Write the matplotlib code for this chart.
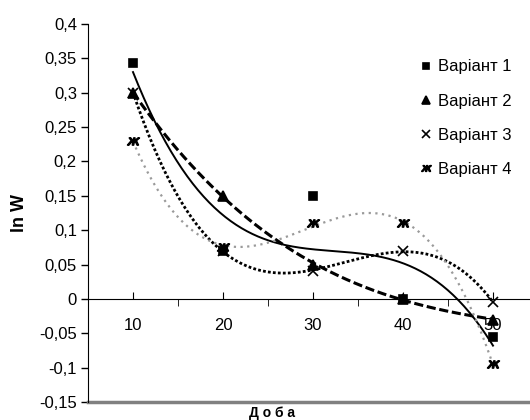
import numpy as np
import matplotlib
matplotlib.use('Agg')
from matplotlib import pyplot as plt
from matplotlib.ticker import FixedLocator, FuncFormatter

plt.rcParams['font.family'] = ['Liberation Sans', 'DejaVu Sans']

# data
days = [10, 20, 30, 40, 50]
var1 = [0.343, 0.07, 0.15, 0.0, -0.055]
var2 = [0.30, 0.15, 0.05, 0.0, -0.03]
var3 = [0.30, 0.07, 0.04, 0.07, -0.005]
var4 = [0.23, 0.075, 0.11, 0.11, -0.095]
labels = ['Варіант 1', 'Варіант 2', 'Варіант 3', 'Варіант 4']

# category positions like Excel (1..5)
pos = np.arange(1, len(days) + 1)

fig = plt.figure(figsize=(5.3, 4.2), dpi=100)
ax = fig.add_axes([88 / 530, 18 / 420, 1 - 88 / 530, 378 / 420])

series = [var1, var2, var3, var4]
markers = ['s', '^', 'x', '$ж$']
msizes = [6, 7, 6.5, 8.5]
line_kw = [
    dict(color='black', lw=1.4, ls='-'),
    dict(color='black', lw=2.2, ls=(0, (3, 1.2))),
    dict(color='black', lw=2.0, ls=(0, (1, 0.8))),
    dict(color='#9a9a9a', lw=1.6, ls=(0, (1, 2))),
]

# 3rd order polynomial trend lines like in Excel
xs = np.linspace(1, 5, 200)
for vals, kw in zip(series, line_kw):
    coef = np.polyfit(pos, vals, 3)
    ax.plot(xs, np.polyval(coef, xs), zorder=2, **kw)

for vals, m, ms, lab in zip(series, markers, msizes, labels):
    ax.plot(pos, vals, ls='none', marker=m, ms=ms, color='black',
            mec='black', mew=1.2, label=lab, zorder=3)

ax.set_xlim(0.5, 0.5 + 442 / 90)
ax.set_ylim(-0.15, 0.4)

# y axis
ax.yaxis.set_major_locator(FixedLocator(np.arange(-0.15, 0.401, 0.05)))
ax.yaxis.set_major_formatter(FuncFormatter(
    lambda v, p: ('%g' % round(v, 2)).replace('.', ',')))
ax.tick_params(axis='y', direction='out', length=5, width=1, labelsize=12, pad=3)

# category axis crosses at 0
ax.spines['bottom'].set_position(('data', 0))
ax.spines['top'].set_visible(False)
ax.spines['right'].set_visible(False)
ax.set_xticks(pos)
ax.set_xticklabels([str(d) for d in days])
ax.set_xticks(pos[:-1] + 0.5, minor=True)
ax.tick_params(axis='x', which='major', direction='in', length=5, labelsize=12, pad=14)
ax.tick_params(axis='x', which='minor', direction='out', length=5)
ax.axhline(-0.15, color='#808080', lw=2.5, clip_on=False)

ax.set_ylabel('ln W', fontsize=13, fontweight='bold', labelpad=8)
fig.text(0.513, 0.0, 'Д о б а', ha='center', va='bottom', fontsize=10,
         fontweight='bold')

leg = ax.legend(loc='upper left', bbox_to_anchor=(0.72, 0.946), frameon=False,
                fontsize=12, handlelength=0.6, handletextpad=0.4,
                labelspacing=1.15, markerscale=0.8)

plt.savefig('out.png', dpi=100)
